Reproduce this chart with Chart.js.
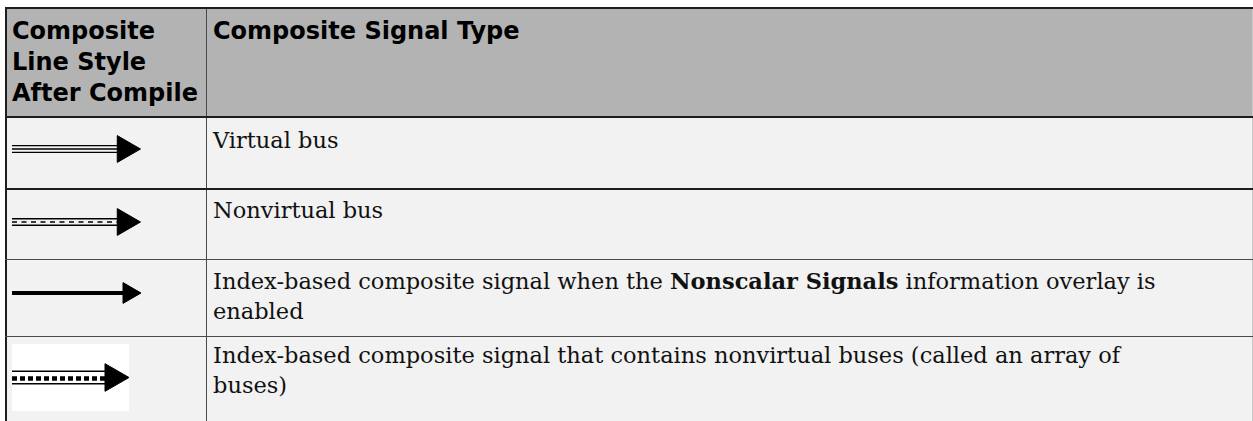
<!DOCTYPE html>
<html>
<head>
<meta charset="utf-8">
<title>Composite line styles</title>
<script src="https://cdn.jsdelivr.net/npm/chart.js@4/dist/chart.umd.min.js"></script>
<style>
  body { margin: 0; background: #fff; width: 1253px; height: 421px; overflow: hidden; position: relative; }
  .box { position: absolute; }
  .txt { position: absolute; white-space: nowrap; color: #000; }
  .head { font: bold 24px 'DejaVu Sans'; line-height: 31px; }
  .cell { font: 22.5px 'DejaVu Serif'; line-height: 29.5px; color: #111; }
  canvas.icon { position: absolute; }
</style>
</head>
<body>
<script>
// Kopteksten van de tabel
const headerCol1 = ['Composite', 'Line Style', 'After Compile'];
const headerCol2 = ['Composite Signal Type'];

// Tekst per rij (** = vet)
const signalTypes = [
    ['Virtual bus'],
    ['Nonvirtual bus'],
    ['Index-based composite signal when the **Nonscalar Signals** information overlay is', 'enabled'],
    ['Index-based composite signal that contains nonvirtual buses (called an array of', 'buses)']
];

// Lijnstijl per rij: afstand van de rails tot het midden, dikte en streepjes
const railOffsets = [[-3.4, 0, 3.4], [-3.3, 0, 3.3], [0], [-6.2, -1, 6.2]];
const railWidths = [[1.4, 1.4, 1.4], [1.4, 1.5, 1.4], [4], [1.5, 4.5, 1.5]];
const railDashes = [[[], [], []], [[], [5, 4.5], []], [[]], [[], [5, 3], []]];

// Pijlpunt per rij (straal van de driehoek)
const arrowSizes = [15.5, 15.5, 12, 16];

// ---- layout van de tabel (pixels) ----
const rowBorders = [116, 188, 259, 336];
const borderSizes = [2, 2, 1, 1];
const textTops = [126, 196, 267, 341];
const iconBoxes = [
    { left: 12, top: 124, w: 135, h: 50, shaft: 106, tip: 113 },
    { left: 12, top: 197, w: 135, h: 50, shaft: 106, tip: 113 },
    { left: 12, top: 268, w: 135, h: 50, shaft: 112, tip: 117 },
    { left: 12, top: 344, w: 117, h: 67, shaft: 96, tip: 101 }
];

function box(x, y, w, h, color) {
    const d = document.createElement('div');
    d.className = 'box';
    d.style.cssText = `left:${x}px;top:${y}px;width:${w}px;height:${h}px;background:${color}`;
    document.body.appendChild(d);
}

function text(x, y, lines, cls) {
    const d = document.createElement('div');
    d.className = 'txt ' + cls;
    d.style.left = x + 'px';
    d.style.top = y + 'px';
    d.innerHTML = lines.map(l => l.replace(/\*\*(.+?)\*\*/g, '<b>$1</b>')).join('<br>');
    document.body.appendChild(d);
}

// Achtergronden
box(5, 7, 1248, 110, '#b3b3b3');
box(5, 117, 1248, 304, '#f2f2f2');

// Randen
box(5, 7, 1248, 2, '#1e1e1e');
box(5, 7, 2, 414, '#1e1e1e');
box(206, 9, 1, 412, '#4a4a4a');
box(1252, 9, 1, 412, '#c8c8c8');
rowBorders.forEach((y, i) => box(5, y, 1248, borderSizes[i], i < 2 ? '#1e1e1e' : '#4a4a4a'));

// Teksten
text(12, 16, headerCol1, 'head');
text(213, 16, headerCol2, 'head');
signalTypes.forEach((lines, i) => text(213, textTops[i], lines, 'cell'));

// De functie drawIcon tekent de lijnstijl met pijl als kleine Chart.js grafiek
function drawIcon(i) {
    const b = iconBoxes[i];
    const canvas = document.createElement('canvas');
    canvas.className = 'icon';
    canvas.width = b.w;
    canvas.height = b.h;
    canvas.style.left = b.left + 'px';
    canvas.style.top = b.top + 'px';
    if (i === 3) canvas.style.background = '#fff';
    document.body.appendChild(canvas);

    const datasets = railOffsets[i].map((off, j) => ({
        data: [{ x: 0, y: off }, { x: b.shaft, y: off }],
        borderColor: '#000',
        borderWidth: railWidths[i][j],
        borderDash: railDashes[i][j],
        borderCapStyle: 'butt',
        pointRadius: 0
    }));

    datasets.push({
        data: [{ x: b.tip, y: 0 }],
        showLine: false,
        pointStyle: 'triangle',
        rotation: 90,
        pointRadius: arrowSizes[i],
        backgroundColor: '#000',
        borderColor: '#000',
        pointBorderWidth: 1
    });

    new Chart(canvas, {
        type: 'line',
        data: { datasets: datasets },
        options: {
            responsive: false,
            animation: false,
            events: [],
            layout: { padding: 0, autoPadding: false },
            plugins: { legend: { display: false }, tooltip: { enabled: false } },
            scales: {
                x: { type: 'linear', display: false, min: 0, max: b.w },
                y: { type: 'linear', display: false, min: -b.h / 2, max: b.h / 2 }
            }
        }
    });
}

signalTypes.forEach((t, i) => drawIcon(i));
</script>
</body>
</html>
